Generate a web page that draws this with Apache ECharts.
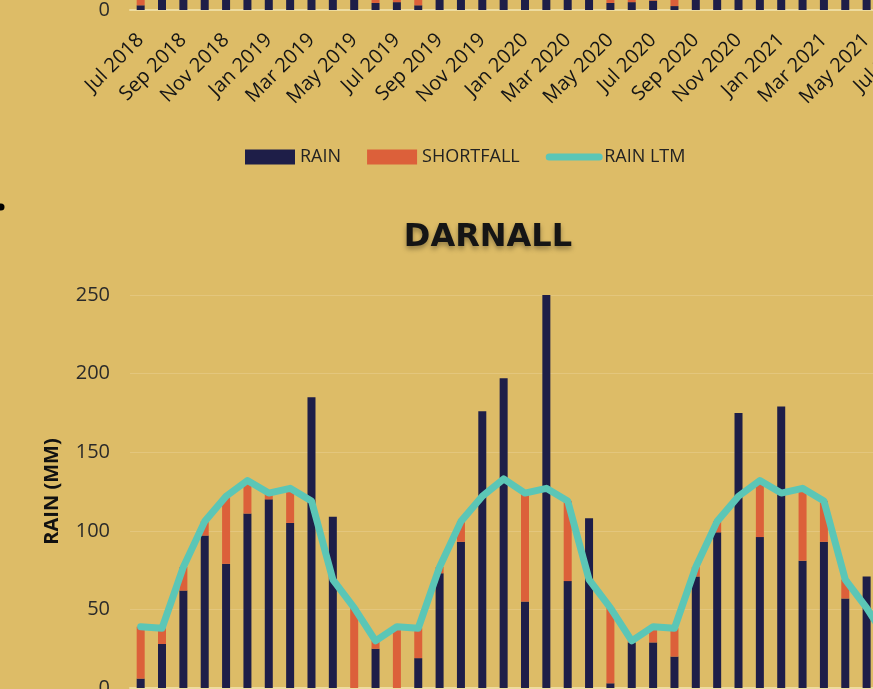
<!DOCTYPE html>
<html>
<head>
<meta charset="utf-8">
<script src="https://cdn.jsdelivr.net/npm/echarts@6/dist/echarts.min.js"></script>
<style>
  html, body { margin: 0; padding: 0; background: #DDBC67; }
  #main { width: 873px; height: 689px; }
</style>
</head>
<body>
<div id="main"></div>
<script>
// months on the shared x axis
const months = [
  'Jul 2018', 'Aug 2018', 'Sep 2018', 'Oct 2018', 'Nov 2018', 'Dec 2018',
  'Jan 2019', 'Feb 2019', 'Mar 2019', 'Apr 2019', 'May 2019', 'Jun 2019',
  'Jul 2019', 'Aug 2019', 'Sep 2019', 'Oct 2019', 'Nov 2019', 'Dec 2019',
  'Jan 2020', 'Feb 2020', 'Mar 2020', 'Apr 2020', 'May 2020', 'Jun 2020',
  'Jul 2020', 'Aug 2020', 'Sep 2020', 'Oct 2020', 'Nov 2020', 'Dec 2020',
  'Jan 2021', 'Feb 2021', 'Mar 2021', 'Apr 2021', 'May 2021', 'Jun 2021',
  'Jul 2021'
];
const yTicks = [0, 50, 100, 150, 200, 250];

// upper chart (only its bottom edge is in view)
const topRain = [3, 40, 70, 85, 110, 130, 95, 150, 120, 60, 30, 4.5,
  5, 3, 65, 120, 140, 160, 110, 200, 90, 70, 4.5, 5,
  6, 2.5, 80, 100, 150, 120, 170, 140, 110, 75, 60, null, null];
const topShortfall = [30, 0, 0, 0, 0, 0, 0, 0, 0, 0, 0, 20,
  30, 30, 0, 0, 0, 0, 0, 0, 0, 0, 40, 20,
  30, 32, 0, 0, 0, 0, 0, 0, 0, 0, 0, null, null];

// DARNALL
const rain = [6, 28, 62, 97, 79, 111, 120, 105, 185, 109, 0, 25,
  0, 19, 73, 93, 176, 197, 55, 250, 68, 108, 3, 29,
  29, 20, 71, 99, 175, 96, 179, 81, 93, 57, 71, null, null];
const shortfall = [33, 10, 15, 9, 43, 21, 4, 22, 0, 0, 51, 5,
  39, 19, 4, 13, 0, 0, 69, 0, 51, 0, 48, 1,
  10, 18, 6, 7, 0, 36, 0, 46, 26, 12, 0, null, null];
const rainLtm = [39, 38, 77, 106, 122, 132, 124, 127, 119, 69, 51, 30,
  39, 38, 77, 106, 122, 133, 124, 127, 119, 69, 51, 30,
  39, 38, 77, 106, 122, 132, 124, 127, 119, 69, 51, 30, 39];

const NAVY = '#1E1E48';
const ORANGE = '#DC603A';
const TEAL = '#5BC6B6';
const FONT = 'Open Sans';

const chart = echarts.init(document.getElementById('main'));

function xAxisFor(gi) {
  return {
    type: 'category',
    gridIndex: gi,
    data: months,
    axisTick: { show: false },
    axisLine: { show: true, lineStyle: { color: '#EEDC9F', width: 2 } },
    axisLabel: {
      interval: 1,
      rotate: 45,
      margin: 27,
      fontSize: 20,
      fontFamily: FONT,
      color: '#151515'
    },
    splitLine: { show: false }
  };
}

function yAxisFor(gi) {
  return {
    type: 'value',
    gridIndex: gi,
    min: yTicks[0],
    max: yTicks[yTicks.length - 1],
    interval: 50,
    name: 'RAIN (MM)',
    nameLocation: 'middle',
    nameGap: 68,
    nameTextStyle: { fontSize: 20, fontWeight: 'bold', fontFamily: FONT, color: '#111' },
    axisLine: { show: false },
    axisTick: { show: false },
    axisLabel: { fontSize: 20, fontFamily: FONT, color: '#2a2a2a', margin: 20 },
    splitLine: { lineStyle: { color: '#E3C67D', width: 1 } }
  };
}

const option = {
  backgroundColor: '#DDBC67',
  animation: false,
  title: [{
    text: 'DARNALL',
    left: 483,
    top: 217,
    textAlign: 'center',
    textStyle: {
      fontFamily: 'DejaVu Sans',
      fontWeight: 'bold',
      fontSize: 32,
      color: '#151515',
      textShadowColor: 'rgba(0,0,0,0.35)',
      textShadowBlur: 5,
      textShadowOffsetY: 3
    }
  }],
  legend: {
    left: 240,
    top: 143,
    itemWidth: 50,
    itemHeight: 15,
    itemGap: 26,
    textStyle: { fontSize: 18, fontFamily: FONT, color: '#222' },
    data: [
      { name: 'RAIN', icon: 'rect' },
      { name: 'SHORTFALL', icon: 'rect' },
      { name: 'RAIN LTM', itemStyle: { opacity: 0 }, lineStyle: { width: 7, cap: 'round', color: TEAL } }
    ]
  },
  grid: [
    { left: 130, right: -47, top: -383, height: 393, outerBoundsMode: 'none' },
    { left: 130, right: -47, top: 295, height: 393, outerBoundsMode: 'none' }
  ],
  xAxis: [xAxisFor(0), xAxisFor(1)],
  yAxis: [yAxisFor(0), yAxisFor(1)],
  graphic: [{
    type: 'circle',
    shape: { cx: 1, cy: 207, r: 3.5 },
    style: { fill: '#000' }
  }],
  series: [
    {
      name: 'RAIN', type: 'bar', xAxisIndex: 0, yAxisIndex: 0, stack: 'top',
      barWidth: 8, itemStyle: { color: NAVY }, data: topRain
    },
    {
      name: 'SHORTFALL', type: 'bar', xAxisIndex: 0, yAxisIndex: 0, stack: 'top',
      barWidth: 8, itemStyle: { color: ORANGE }, data: topShortfall
    },
    {
      name: 'RAIN', type: 'bar', xAxisIndex: 1, yAxisIndex: 1, stack: 'darnall',
      barWidth: 8, itemStyle: { color: NAVY }, data: rain
    },
    {
      name: 'SHORTFALL', type: 'bar', xAxisIndex: 1, yAxisIndex: 1, stack: 'darnall',
      barWidth: 8, itemStyle: { color: ORANGE }, data: shortfall
    },
    {
      name: 'RAIN LTM', type: 'line', xAxisIndex: 1, yAxisIndex: 1,
      symbol: 'none', z: 5,
      lineStyle: { color: TEAL, width: 7, join: 'round', cap: 'round' },
      itemStyle: { color: TEAL },
      data: rainLtm
    }
  ]
};

chart.setOption(option);
</script>
</body>
</html>
